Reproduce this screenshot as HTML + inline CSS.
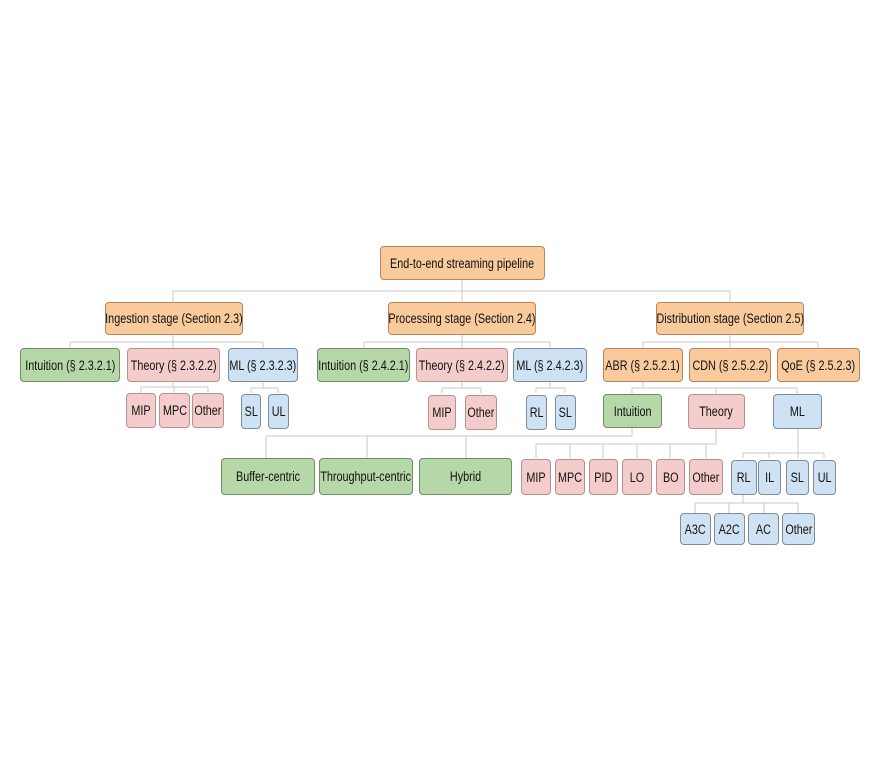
<!DOCTYPE html>
<html><head><meta charset="utf-8"><style>
body{margin:0;width:874px;height:768px;background:#fff;position:relative;overflow:hidden;font-family:"Liberation Sans",sans-serif;}
.b{position:absolute;box-sizing:border-box;border:1px solid;border-radius:4px;display:flex;align-items:center;justify-content:center;font-size:13.5px;color:#111;white-space:nowrap}
.b span{display:inline-block;transform:scaleX(0.8);transform-origin:center}
.o{background:#f9cb9c;border-color:#b8865a}
.g{background:#b6d7a8;border-color:#6f8f62}
.p{background:#f4cccc;border-color:#b89090}
.u{background:#cfe2f3;border-color:#7f8c99}
svg{position:absolute;left:0;top:0}
</style></head><body>
<svg width="874" height="768" stroke="#c8c8c8" stroke-width="1" fill="none">
<path d="M462 280V291M173 291H730M173 291V302M462 291V302M730 291V302"/>
<path d="M173 335V342M70 342H263M70 342V348M173 342V348M263 342V348"/>
<path d="M462 335V342M364 342H550M364 342V348M462 342V348M550 342V348"/>
<path d="M730 335V342M643 342H818M643 342V348M730 342V348M818 342V348"/>
<path d="M173 382V387M141 387H208M141 387V393M174 387V393M208 387V393"/>
<path d="M263 382V388M251 388H278M251 388V393M278 388V393"/>
<path d="M462 382V388M442 388H481M442 388V393M481 388V393"/>
<path d="M550 382V388M536 388H565M536 388V393M565 388V393"/>
<path d="M643 382V388M632 388H797M632 388V394M716 388V394M797 388V394"/>
<path d="M632 428V436M266 436H632M266 436V458M367 436V458M466 436V458"/>
<path d="M716 428V444M536 444H716M536 444V458M570 444V458M603 444V458M637 444V458M670 444V458M706 444V458"/>
<path d="M798 428V453M743 453H824M743 453V458M769 453V458M798 453V458M824 453V458"/>
<path d="M743 494V503M695 503H798M695 503V513M729 503V513M764 503V513M798 503V513"/>
</svg>
<div class="b o" style="left:380px;top:246px;width:165px;height:34px"><span>End-to-end streaming pipeline</span></div>
<div class="b o" style="left:105px;top:302px;width:138px;height:33px"><span>Ingestion stage (Section 2.3)</span></div>
<div class="b o" style="left:388px;top:302px;width:148px;height:33px"><span>Processing stage (Section 2.4)</span></div>
<div class="b o" style="left:656px;top:302px;width:148px;height:33px"><span>Distribution stage (Section 2.5)</span></div>

<div class="b g" style="left:20px;top:348px;width:100px;height:34px"><span>Intuition (§ 2.3.2.1)</span></div>
<div class="b p" style="left:127px;top:348px;width:93px;height:34px"><span>Theory (§ 2.3.2.2)</span></div>
<div class="b u" style="left:228px;top:348px;width:70px;height:34px"><span>ML (§ 2.3.2.3)</span></div>
<div class="b g" style="left:317px;top:348px;width:93px;height:34px"><span>Intuition (§ 2.4.2.1)</span></div>
<div class="b p" style="left:416px;top:348px;width:92px;height:34px"><span>Theory (§ 2.4.2.2)</span></div>
<div class="b u" style="left:513px;top:348px;width:74px;height:34px"><span>ML (§ 2.4.2.3)</span></div>
<div class="b o" style="left:603px;top:348px;width:80px;height:34px"><span>ABR (§ 2.5.2.1)</span></div>
<div class="b o" style="left:689px;top:348px;width:82px;height:34px"><span>CDN (§ 2.5.2.2)</span></div>
<div class="b o" style="left:777px;top:348px;width:83px;height:34px"><span>QoE (§ 2.5.2.3)</span></div>

<div class="b p" style="left:126px;top:393px;width:30px;height:35px"><span>MIP</span></div>
<div class="b p" style="left:159px;top:393px;width:31px;height:35px"><span>MPC</span></div>
<div class="b p" style="left:192px;top:393px;width:32px;height:35px"><span>Other</span></div>
<div class="b u" style="left:241px;top:394px;width:20px;height:35px"><span>SL</span></div>
<div class="b u" style="left:268px;top:394px;width:21px;height:35px"><span>UL</span></div>
<div class="b p" style="left:428px;top:395px;width:28px;height:35px"><span>MIP</span></div>
<div class="b p" style="left:465px;top:395px;width:32px;height:35px"><span>Other</span></div>
<div class="b u" style="left:526px;top:395px;width:21px;height:35px"><span>RL</span></div>
<div class="b u" style="left:555px;top:395px;width:21px;height:35px"><span>SL</span></div>
<div class="b g" style="left:603px;top:394px;width:59px;height:34px"><span>Intuition</span></div>
<div class="b p" style="left:688px;top:394px;width:57px;height:35px"><span>Theory</span></div>
<div class="b u" style="left:773px;top:394px;width:49px;height:35px"><span>ML</span></div>

<div class="b g" style="left:221px;top:458px;width:94px;height:37px"><span>Buffer-centric</span></div>
<div class="b g" style="left:319px;top:458px;width:94px;height:37px"><span>Throughput-centric</span></div>
<div class="b g" style="left:419px;top:458px;width:93px;height:37px"><span>Hybrid</span></div>
<div class="b p" style="left:521px;top:459px;width:30px;height:36px"><span>MIP</span></div>
<div class="b p" style="left:555px;top:459px;width:30px;height:36px"><span>MPC</span></div>
<div class="b p" style="left:589px;top:459px;width:29px;height:36px"><span>PID</span></div>
<div class="b p" style="left:622px;top:459px;width:30px;height:36px"><span>LO</span></div>
<div class="b p" style="left:656px;top:459px;width:29px;height:36px"><span>BO</span></div>
<div class="b p" style="left:689px;top:459px;width:34px;height:36px"><span>Other</span></div>
<div class="b u" style="left:731px;top:460px;width:26px;height:35px"><span>RL</span></div>
<div class="b u" style="left:758px;top:460px;width:23px;height:35px"><span>IL</span></div>
<div class="b u" style="left:786px;top:460px;width:23px;height:35px"><span>SL</span></div>
<div class="b u" style="left:813px;top:460px;width:23px;height:35px"><span>UL</span></div>

<div class="b u" style="left:680px;top:513px;width:31px;height:32px"><span>A3C</span></div>
<div class="b u" style="left:714px;top:513px;width:31px;height:32px"><span>A2C</span></div>
<div class="b u" style="left:748px;top:513px;width:31px;height:32px"><span>AC</span></div>
<div class="b u" style="left:782px;top:513px;width:33px;height:32px"><span>Other</span></div>
</body></html>
